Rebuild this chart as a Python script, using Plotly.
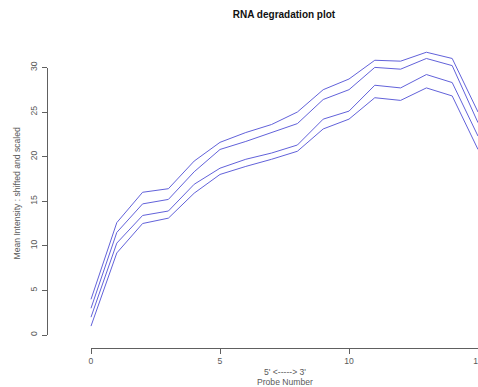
import plotly.graph_objects as go

# Probe positions along the transcript (5' -> 3')
probe_number = [0, 1, 2, 3, 4, 5, 6, 7, 8, 9, 10, 11, 12, 13, 14, 15]

# Mean intensity per probe, shifted and scaled, one list per array
array_1 = [1.0, 9.2, 12.5, 13.1, 15.9, 18.0, 18.9, 19.7, 20.6, 23.1, 24.2, 26.6, 26.3, 27.7, 26.8, 20.8]
array_2 = [2.0, 10.3, 13.4, 13.9, 16.9, 18.7, 19.7, 20.4, 21.3, 24.2, 25.1, 28.0, 27.7, 29.2, 28.3, 22.3]
array_3 = [3.0, 11.5, 14.7, 15.2, 18.3, 20.8, 21.7, 22.7, 23.7, 26.4, 27.5, 30.0, 29.8, 31.0, 30.2, 23.8]
array_4 = [4.0, 12.6, 16.0, 16.4, 19.5, 21.6, 22.7, 23.6, 25.0, 27.5, 28.7, 30.8, 30.7, 31.7, 31.0, 25.0]

x_ticks = [0, 5, 10, 15]
y_ticks = [0, 5, 10, 15, 20, 25, 30]

W, H = 478, 387
LINE_COLOR = "rgb(98,98,218)"
AXIS_COLOR = "#606060"
TEXT_COLOR = "#5a5a5a"
FONT = "Liberation Sans, Arial, sans-serif"

# pixel geometry of the data frame
x0_px, px_per_x = 91.0, 25.8      # probe 0 position, pixels per probe
y0_px, px_per_y = 335.0, 8.92     # intensity 0 position, pixels per unit

fig = go.Figure()
for series in (array_1, array_2, array_3, array_4):
    fig.add_trace(go.Scatter(
        x=probe_number, y=series, mode="lines",
        line=dict(color=LINE_COLOR, width=1),
        showlegend=False, hoverinfo="skip",
    ))

# empty trace that carries the visible axes
fig.add_trace(go.Scatter(x=[], y=[], xaxis="x2", yaxis="y2",
                         showlegend=False, hoverinfo="skip"))

fig.update_layout(
    width=W, height=H,
    margin=dict(l=0, r=0, t=0, b=0, autoexpand=False),
    paper_bgcolor="white",
    plot_bgcolor="rgba(0,0,0,0)",
    font=dict(family=FONT, color=TEXT_COLOR),
    title=dict(
        text="<b>RNA degradation plot</b>",
        x=284 / W, xanchor="center",
        y=1 - 14 / H, yanchor="middle",
        font=dict(size=10, color="#111111", family=FONT),
    ),
    xaxis=dict(
        domain=[0, 1],
        range=[(0 - x0_px) / px_per_x, (W - x0_px) / px_per_x],
        visible=False,
    ),
    yaxis=dict(
        domain=[0, 1],
        range=[(y0_px - H) / px_per_y, y0_px / px_per_y],
        visible=False,
    ),
    xaxis2=dict(
        domain=[x0_px / W, 1],
        range=[0, 15],
        anchor="free",
        position=(H - 347.5) / H,
        showline=True, linecolor=AXIS_COLOR, linewidth=1,
        ticks="outside", ticklen=5, tickcolor=AXIS_COLOR, tickwidth=1,
        tickvals=x_ticks, ticklabeloverflow="allow", automargin=False,
        tickfont=dict(size=8.6, color=TEXT_COLOR, family=FONT),
        showgrid=False, zeroline=False,
    ),
    yaxis2=dict(
        domain=[(H - 335) / H, (H - 67.5) / H],
        range=[0, 30],
        anchor="free",
        position=47 / W,
        side="left",
        showline=True, linecolor=AXIS_COLOR, linewidth=1,
        ticks="outside", ticklen=5, tickcolor=AXIS_COLOR, tickwidth=1,
        tickvals=y_ticks, tickangle=-90, ticklabelstandoff=2, automargin=False,
        tickfont=dict(size=8.6, color=TEXT_COLOR, family=FONT),
        showgrid=False, zeroline=False,
    ),
    annotations=[
        dict(text="Mean Intensity : shifted and scaled",
             xref="paper", yref="paper", x=16 / W, y=1 - 193.5 / H,
             textangle=-90, showarrow=False,
             xanchor="center", yanchor="middle",
             font=dict(size=8.6, color=TEXT_COLOR, family=FONT)),
        dict(text="5' &lt;-----&gt; 3'",
             xref="paper", yref="paper", x=284.5 / W, y=1 - 372 / H,
             showarrow=False, xanchor="center", yanchor="middle",
             font=dict(size=8.6, color=TEXT_COLOR, family=FONT)),
        dict(text="Probe Number",
             xref="paper", yref="paper", x=285 / W, y=1 - 382 / H,
             showarrow=False, xanchor="center", yanchor="middle",
             font=dict(size=8.6, color=TEXT_COLOR, family=FONT)),
    ],
)

fig.write_html("out.html")
